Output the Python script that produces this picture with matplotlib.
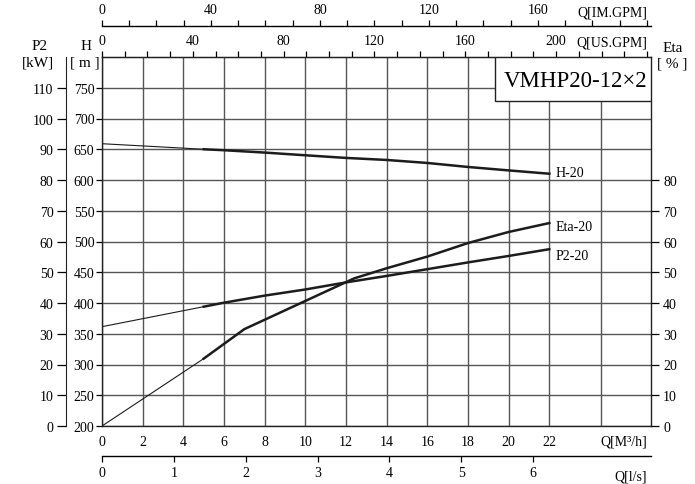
import matplotlib
matplotlib.use("Agg")
import matplotlib.pyplot as plt
from matplotlib.patches import Rectangle

plt.rcParams['font.family'] = ['Liberation Serif', 'DejaVu Serif']
plt.rcParams['font.size'] = 10

# pump curve data, flow Q in m3/h
q_head_ext = [0, 5]
head_ext = [659, 650]
q_head = [5, 6, 8, 10, 12, 14, 16, 18, 20, 22]
head = [650, 648.4, 644.6, 640.2, 635.9, 632.6, 627.7, 621.2, 615.6, 610.2]

q_eta_ext = [0, 5]
eta_ext = [0, 21.9]
q_eta = [5, 7, 12.4, 14, 16, 18, 20, 22]
eta = [21.9, 31.5, 48.0, 51.3, 55.1, 59.5, 63.1, 66.0]

q_p2_ext = [0, 5]
p2_ext = [32.3, 38.8]
q_p2 = [5, 6, 8, 10, 12, 14, 16, 18, 20, 22]
p2 = [38.8, 40.1, 42.4, 44.4, 46.7, 48.8, 51.0, 53.2, 55.3, 57.5]

q_ticks = list(range(0, 23, 2))
h_ticks = list(range(200, 751, 50))
p2_ticks = list(range(0, 111, 10))
eta_ticks = list(range(0, 81, 10))
us_ticks = list(range(0, 201, 40))
im_ticks = list(range(0, 161, 40))
ls_ticks = list(range(0, 7))

model = "VMHP20-12\u00d72"

# scale factors of the extra flow axes
US_PER_Q = 240 / 26.8
IM_PER_Q = 200 / 26.8
LS_PER_Q = 20.32 / 71.8

W, H = 695, 485
fig = plt.figure(figsize=(W / 100, H / 100), dpi=100)

def fx(x):
    return x / W

def fy(y):
    return 1 - y / H

left, right, top, bottom = 102, 651, 58, 427
ax = fig.add_axes([fx(left), fy(bottom), (right - left) / W, (bottom - top) / H])
ax.set_xlim(0, 27.0)
ax.set_ylim(200, 800)

grid_c = '#555555'
ink = '#1c1c1c'

ax.set_xticks(q_ticks)
ax.set_yticks(h_ticks)
ax.tick_params(axis='x', length=0, pad=6.5, labelsize=10)
ax.tick_params(axis='y', length=4.5, width=0.9, pad=1, labelsize=10)
ax.grid(True, color=grid_c, lw=1.0)
ax.axvline(24.55, color=grid_c, lw=1.0)
ax.set_axisbelow(True)
for s in ax.spines.values():
    s.set_color('#222222')
    s.set_linewidth(1.0)

# P2 axis on the far left
axp = ax.twinx()
axp.set_ylim(0, 120)
axp.yaxis.set_ticks_position('left')
axp.spines['left'].set_position(('outward', 36 * 0.72))
axp.spines['left'].set_visible(True)
axp.spines['left'].set_color('#222222')
axp.spines['right'].set_visible(False)
axp.spines['top'].set_visible(False)
axp.spines['bottom'].set_visible(False)
axp.set_yticks(p2_ticks)
axp.tick_params(axis='y', length=6.5, width=0.9, pad=2.5, labelsize=10)

# efficiency axis on the right
axe = ax.twinx()
axe.set_ylim(0, 120)
for k in ['left', 'top', 'bottom', 'right']:
    axe.spines[k].set_visible(False)
axe.set_yticks(eta_ticks)
axe.tick_params(axis='y', length=5.8, width=0.9, pad=3, labelsize=10)

# curves
ax.plot(q_head_ext, head_ext, color=ink, lw=0.8)
ax.plot(q_head, head, color=ink, lw=1.8)
axe.plot(q_eta_ext, eta_ext, color=ink, lw=0.8)
axe.plot(q_eta, eta, color=ink, lw=1.8)
axp.plot(q_p2_ext, p2_ext, color=ink, lw=0.8)
axp.plot(q_p2, p2, color=ink, lw=1.8)

ax.text(22.3, head[-1] + 2, "H-20", fontsize=10, va='center', ha='left')
axe.text(22.3, eta[-1] - 1, "Eta-20", fontsize=10, va='center', ha='left')
axp.text(22.3, p2[-1] - 2, "P2-20", fontsize=10, va='center', ha='left')

# model box
axe.add_patch(Rectangle((0.716, 0.881), 0.284, 0.119, transform=axe.transAxes,
                        facecolor='white', edgecolor='#222222', lw=1.0, zorder=5))
axe.text(0.862, 0.935, model, transform=axe.transAxes, fontsize=16.5,
         ha='center', va='center', zorder=6)

# flow scales
us = ax.secondary_xaxis(1.0, functions=(lambda q: q * US_PER_Q, lambda g: g / US_PER_Q))
us.set_xticks(us_ticks)
us.set_xticks(list(range(0, 241, 10)), minor=True)
us.tick_params(which='both', length=4.5, width=0.9, pad=2.5, labelsize=10)

im_loc = (bottom - 27) / (bottom - top)
im = ax.secondary_xaxis(im_loc, functions=(lambda q: q * IM_PER_Q, lambda g: g / IM_PER_Q))
im.set_xticks(im_ticks)
im.set_xticks(list(range(0, 201, 10)), minor=True)
im.tick_params(which='both', length=4.5, width=0.9, pad=2.5, labelsize=10)
im.spines['top'].set_linewidth(1.0)

ls_loc = -(457 - bottom) / (bottom - top)
ls = ax.secondary_xaxis(ls_loc, functions=(lambda q: q * LS_PER_Q, lambda v: v / LS_PER_Q))
ls.set_xticks(ls_ticks)
ls.tick_params(length=4.5, width=0.9, pad=2.5, labelsize=10)
ls.spines['bottom'].set_linewidth(1.0)

# axis captions
fig.text(fx(40), fy(47), "P2", fontsize=11, ha='center', va='center')
fig.text(fx(37.5), fy(63), "[kW]", fontsize=11, ha='center', va='center')
fig.text(fx(86), fy(47), "H", fontsize=11, ha='center', va='center')
fig.text(fx(85), fy(63), "[ m ]", fontsize=11, ha='center', va='center')
fig.text(fx(673), fy(48), "Eta", fontsize=11, ha='center', va='center')
fig.text(fx(672.5), fy(64), "[ % ]", fontsize=11, ha='center', va='center')
fig.text(fx(647), fy(13), "Q[IM.GPM]", fontsize=10, ha='right', va='center')
fig.text(fx(647), fy(43), "Q[US.GPM]", fontsize=10, ha='right', va='center')
fig.text(fx(647), fy(442), "Q[M\u00b3/h]", fontsize=10, ha='right', va='center')
fig.text(fx(647), fy(477), "Q[l/s]", fontsize=10, ha='right', va='center')

fig.savefig("out.png", dpi=100)
